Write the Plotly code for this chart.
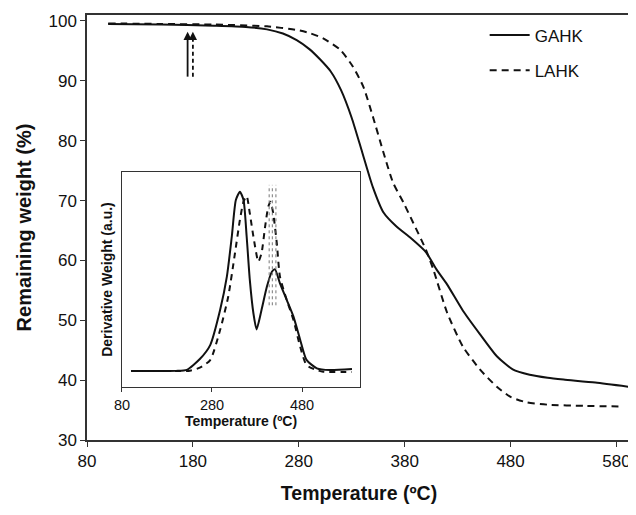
import plotly.graph_objects as go

# ---------------- data ----------------
# Main TGA curves: temperature (°C) vs remaining weight (%)
gahk_T = [100, 150, 200, 230, 250, 265, 278, 290, 300, 310, 320, 330, 340, 350, 360, 372, 386, 400, 410, 420, 435, 451, 467, 482, 498, 515, 530, 560, 591]
gahk_W = [99.5, 99.4, 99.2, 99.0, 98.6, 97.9, 96.8, 95.3, 93.6, 91.6, 88.4, 83.8, 78.0, 72.2, 68.0, 65.7, 63.7, 61.4, 58.5, 56.0, 51.6, 47.7, 44.0, 41.8, 40.9, 40.4, 40.1, 39.6, 38.9]

lahk_T = [100, 150, 200, 250, 278, 290, 303, 319, 331, 341, 350, 360, 369, 379, 388, 400, 407, 420, 435, 451, 467, 480, 495, 515, 550, 586]
lahk_W = [99.6, 99.5, 99.4, 99.1, 98.5, 98.0, 97.1, 95.2, 92.4, 89.0, 84.0, 78.0, 73.0, 69.6, 66.3, 61.8, 58.5, 51.3, 45.6, 41.8, 38.9, 37.2, 36.3, 35.9, 35.7, 35.6]

# Inset DTG curves (arbitrary units)
gahk_dT = [100, 150, 200, 224, 253, 276, 298, 313, 324, 333, 342, 350, 357, 364, 372, 379, 390, 402, 413, 420, 431, 446, 461, 476, 490, 513, 542, 591]
gahk_D = [7.4, 7.4, 7.5, 8.0, 13.0, 19.5, 35.8, 51.3, 70.0, 87.0, 90.8, 87.0, 70.0, 49.8, 34.3, 26.8, 35.8, 46.7, 53.6, 54.7, 48.2, 40.5, 32.7, 21.9, 12.6, 8.7, 7.9, 8.4]

lahk_dT = [100, 150, 200, 231, 253, 276, 298, 316, 331, 342, 350, 357, 364, 372, 383, 390, 398, 405, 410, 416, 424, 431, 446, 461, 476, 490, 513, 527, 591]
lahk_D = [7.4, 7.4, 7.4, 7.6, 9.0, 12.5, 26.5, 42.0, 62.2, 77.7, 86.2, 88.8, 80.8, 70.0, 58.3, 62.2, 74.6, 83.9, 86.2, 80.8, 66.8, 51.3, 40.5, 31.2, 18.7, 10.2, 7.9, 7.1, 7.0]

# Onset arrows (temperature, from weight -> to weight)
onset_T = [175, 180]
arrow_from = 90.7
arrow_to = 98.2

# Dotted marker lines in inset
dotted_T = [407, 414, 422]
dotted_range = [38, 94]

x_ticks_main = [80, 180, 280, 380, 480, 580]
y_ticks_main = [30, 40, 50, 60, 70, 80, 90, 100]
x_ticks_inset = [80, 280, 480]

FONT = "Liberation Sans, Arial, sans-serif"
INK = "#111111"
AX = "#333333"

fig = go.Figure()

# main curves
fig.add_trace(go.Scatter(x=gahk_T, y=gahk_W, mode="lines", name="GAHK",
                         line=dict(color=INK, width=2, shape="spline", smoothing=0.6),
                         legendgroup="a"))
fig.add_trace(go.Scatter(x=lahk_T, y=lahk_W, mode="lines", name="LAHK",
                         line=dict(color=INK, width=2, dash="7px,5px", shape="spline", smoothing=0.6),
                         legendgroup="b"))

# inset curves
fig.add_trace(go.Scatter(x=gahk_dT, y=gahk_D, mode="lines", showlegend=False,
                         line=dict(color=INK, width=2, shape="spline", smoothing=0.6),
                         xaxis="x2", yaxis="y2"))
fig.add_trace(go.Scatter(x=lahk_dT, y=lahk_D, mode="lines", showlegend=False,
                         line=dict(color=INK, width=2, dash="6px,5px", shape="spline", smoothing=0.6),
                         xaxis="x2", yaxis="y2"))
for t in dotted_T:
    fig.add_trace(go.Scatter(x=[t, t], y=dotted_range, mode="lines", showlegend=False,
                             line=dict(color="#777777", width=1, dash="dot"),
                             xaxis="x2", yaxis="y2"))

# onset arrows: solid one
fig.add_trace(go.Scatter(x=[onset_T[0], onset_T[0]], y=[arrow_from, arrow_to - 0.8], mode="lines",
                         showlegend=False, line=dict(color=INK, width=1.8)))
# dashed one
fig.add_trace(go.Scatter(x=[onset_T[1], onset_T[1]], y=[arrow_from, arrow_to - 0.8], mode="lines",
                         showlegend=False, line=dict(color=INK, width=1.8, dash="4px,3px")))
annotations = []
for t in onset_T:
    annotations.append(dict(x=t, y=arrow_to, ax=t, ay=arrow_to - 1.5, xref="x", yref="y",
                            axref="x", ayref="y", showarrow=True, arrowhead=2, arrowsize=1.1,
                            arrowwidth=1.5, arrowcolor=INK, text=""))

# page body has an 8px default margin, so the figure is sized to fit the 636x515 window
fig.update_layout(
    width=628, height=507,
    margin=dict(l=79, r=5, t=7, b=75, autoexpand=False),
    paper_bgcolor="white", plot_bgcolor="white",
    font=dict(family=FONT, color=INK),
    showlegend=True,
    legend=dict(x=0.731, y=0.994, xanchor="left", yanchor="top",
                font=dict(size=17, family=FONT, color=INK), itemwidth=40,
                bgcolor="rgba(0,0,0,0)", tracegroupgap=10, traceorder="grouped"),
    annotations=annotations,
    xaxis=dict(range=[80, 593.7], tickvals=x_ticks_main, showline=True, mirror=True,
               linecolor=AX, linewidth=1.5, ticks="outside", ticklen=5, tickcolor=AX,
               tickfont=dict(size=17), showgrid=False, zeroline=False, automargin=False,
               title=dict(text="<b>Temperature (ºC)</b>", font=dict(size=19.5), standoff=16)),
    yaxis=dict(range=[30, 101], tickvals=y_ticks_main, showline=True, mirror=True,
               linecolor=AX, linewidth=1.5, ticks="outside", ticklen=5, tickcolor=AX,
               tickfont=dict(size=17), showgrid=False, zeroline=False, automargin=False,
               title=dict(text="<b>Remaining weight (%)</b>", font=dict(size=20), standoff=11)),
    xaxis2=dict(domain=[0.0643, 0.502], anchor="y2", range=[80, 609], tickvals=x_ticks_inset,
                showline=True, mirror=True, linecolor=AX, linewidth=1.3, ticks="outside",
                ticklen=4, tickcolor=AX, tickfont=dict(size=14.5), showgrid=False, zeroline=False,
                automargin=False,
                title=dict(text="<b>Temperature (ºC)</b>", font=dict(size=14), standoff=2)),
    yaxis2=dict(domain=[0.1247, 0.6306], anchor="x2", range=[0, 100], showline=True, mirror=True,
                linecolor=AX, linewidth=1.3, ticks="", showticklabels=False, showgrid=False,
                zeroline=False, automargin=False,
                title=dict(text="<b>Derivative Weight (a.u.)</b>", font=dict(size=14), standoff=4)),
)

fig.write_html("out.html")
